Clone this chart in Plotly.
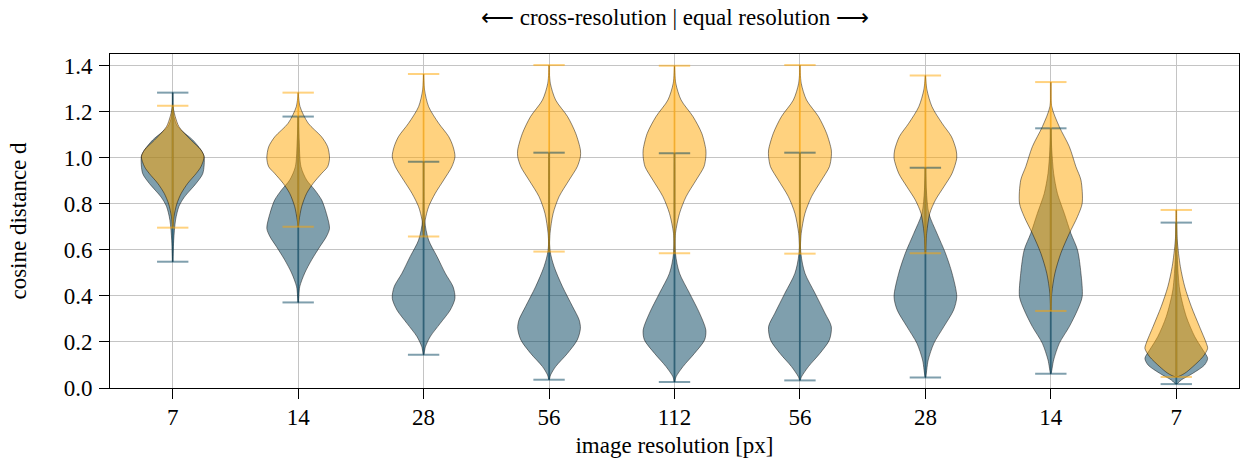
import plotly.graph_objects as go

# ---------------- data ----------------
positions = [1, 2, 3, 4, 5, 6, 7, 8, 9]
tick_labels = ["7", "14", "28", "56", "112", "56", "28", "14", "7"]
y_ticks = [0.0, 0.2, 0.4, 0.6, 0.8, 1.0, 1.2, 1.4]
y_tick_labels = ["0.0", "0.2", "0.4", "0.6", "0.8", "1.0", "1.2", "1.4"]

# blue series (lower distribution)
blue_min = [0.549, 0.372, 0.145, 0.036, 0.026, 0.033, 0.046, 0.062, 0.017]
blue_max = [1.284, 1.180, 0.984, 1.023, 1.020, 1.023, 0.958, 1.129, 0.719]
# density profiles: y values and relative half-width (1 = widest)
blue_prof_y = [
    [0.549, 0.64, 0.73, 0.79, 0.83, 0.89, 0.933, 1.006, 1.035, 1.078, 1.136, 1.18, 1.284],
    [0.372, 0.44, 0.50, 0.557, 0.614, 0.658, 0.694, 0.759, 0.817, 0.861, 0.904, 0.962, 1.078, 1.180],
    [0.145, 0.18, 0.223, 0.281, 0.339, 0.39, 0.44, 0.499, 0.571, 0.643, 0.73, 0.984],
    [0.036, 0.057, 0.093, 0.151, 0.209, 0.259, 0.296, 0.354, 0.44, 0.528, 0.60, 1.023],
    [0.026, 0.049, 0.093, 0.151, 0.209, 0.252, 0.325, 0.412, 0.499, 0.586, 1.020],
    [0.033, 0.049, 0.093, 0.151, 0.209, 0.267, 0.325, 0.412, 0.499, 0.586, 1.023],
    [0.046, 0.122, 0.194, 0.267, 0.339, 0.397, 0.499, 0.586, 0.672, 0.759, 0.861, 0.958],
    [0.062, 0.122, 0.194, 0.267, 0.339, 0.397, 0.499, 0.60, 0.672, 0.759, 0.846, 0.933, 1.035, 1.129],
    [0.017, 0.035, 0.064, 0.10, 0.129, 0.165, 0.223, 0.31, 0.426, 0.571, 0.719],
]
blue_prof_w = [
    [0.0, 0.03, 0.09, 0.20, 0.37, 0.75, 0.96, 1.0, 0.90, 0.64, 0.16, 0.04, 0.0],
    [0.0, 0.05, 0.21, 0.43, 0.69, 0.90, 1.0, 0.90, 0.75, 0.53, 0.27, 0.09, 0.03, 0.0],
    [0.0, 0.06, 0.21, 0.53, 0.85, 1.0, 0.94, 0.69, 0.43, 0.16, 0.03, 0.0],
    [0.0, 0.05, 0.21, 0.59, 0.90, 1.0, 0.96, 0.75, 0.43, 0.16, 0.03, 0.0],
    [0.0, 0.05, 0.27, 0.64, 0.96, 1.0, 0.80, 0.48, 0.16, 0.03, 0.0],
    [0.0, 0.05, 0.27, 0.64, 0.94, 1.0, 0.80, 0.48, 0.16, 0.03, 0.0],
    [0.0, 0.09, 0.27, 0.59, 0.90, 1.0, 0.85, 0.64, 0.37, 0.11, 0.03, 0.0],
    [0.0, 0.09, 0.27, 0.59, 0.85, 1.0, 0.96, 0.85, 0.64, 0.43, 0.21, 0.09, 0.03, 0.0],
    [0.0, 0.16, 0.53, 0.90, 1.0, 0.85, 0.59, 0.32, 0.11, 0.03, 0.0],
]

# orange series (upper distribution)
orange_min = [0.697, 0.701, 0.659, 0.593, 0.586, 0.584, 0.586, 0.335, 0.048]
orange_max = [1.227, 1.284, 1.365, 1.404, 1.401, 1.404, 1.358, 1.330, 0.774]
orange_prof_y = [
    [0.697, 0.745, 0.80, 0.846, 0.89, 0.933, 0.962, 1.006, 1.035, 1.078, 1.136, 1.18, 1.227],
    [0.701, 0.73, 0.788, 0.846, 0.89, 0.933, 0.962, 0.999, 1.049, 1.093, 1.151, 1.223, 1.284],
    [0.659, 0.73, 0.788, 0.846, 0.904, 0.962, 1.006, 1.049, 1.093, 1.151, 1.223, 1.296, 1.365],
    [0.593, 0.672, 0.759, 0.832, 0.904, 0.962, 1.006, 1.035, 1.107, 1.18, 1.252, 1.325, 1.404],
    [0.586, 0.672, 0.759, 0.832, 0.904, 0.962, 1.006, 1.035, 1.107, 1.18, 1.252, 1.325, 1.401],
    [0.584, 0.672, 0.759, 0.832, 0.904, 0.962, 1.006, 1.035, 1.107, 1.18, 1.252, 1.325, 1.404],
    [0.586, 0.672, 0.759, 0.817, 0.875, 0.933, 0.999, 1.035, 1.093, 1.151, 1.223, 1.296, 1.358],
    [0.335, 0.412, 0.499, 0.586, 0.672, 0.745, 0.803, 0.904, 0.962, 1.049, 1.136, 1.223, 1.330],
    [0.048, 0.064, 0.093, 0.136, 0.172, 0.194, 0.267, 0.354, 0.44, 0.528, 0.643, 0.774],
]
orange_prof_w = [
    [0.0, 0.04, 0.13, 0.27, 0.48, 0.75, 0.90, 1.0, 0.90, 0.58, 0.20, 0.08, 0.0],
    [0.0, 0.03, 0.11, 0.27, 0.48, 0.75, 0.94, 1.0, 0.94, 0.74, 0.32, 0.06, 0.0],
    [0.0, 0.05, 0.16, 0.37, 0.64, 0.90, 1.0, 0.94, 0.80, 0.48, 0.16, 0.03, 0.0],
    [0.0, 0.03, 0.13, 0.32, 0.64, 0.90, 1.0, 1.0, 0.85, 0.59, 0.21, 0.04, 0.0],
    [0.0, 0.03, 0.16, 0.37, 0.69, 0.94, 1.0, 1.0, 0.87, 0.59, 0.21, 0.04, 0.0],
    [0.0, 0.04, 0.16, 0.37, 0.69, 0.94, 1.0, 1.0, 0.85, 0.59, 0.21, 0.04, 0.0],
    [0.0, 0.04, 0.14, 0.32, 0.59, 0.85, 1.0, 0.98, 0.83, 0.53, 0.21, 0.05, 0.0],
    [0.0, 0.03, 0.13, 0.32, 0.59, 0.85, 1.0, 0.96, 0.80, 0.59, 0.27, 0.03, 0.0],
    [0.0, 0.27, 0.53, 0.85, 1.0, 0.96, 0.74, 0.48, 0.27, 0.13, 0.03, 0.0],
]

# ---------------- style ----------------
FONT = "Times New Roman, Liberation Serif, Times, serif"
FS = 23
HALF_WIDTH = 0.25   # violin half width in x units
CAP_HALF = 0.125
series = [
    dict(name="blue", rgb=(0, 63, 92), mins=blue_min, maxs=blue_max,
         py=blue_prof_y, pw=blue_prof_w),
    dict(name="orange", rgb=(255, 166, 0), mins=orange_min, maxs=orange_max,
         py=orange_prof_y, pw=orange_prof_w),
]


def rgba(rgb, a):
    return f"rgba({rgb[0]},{rgb[1]},{rgb[2]},{a})"


fig = go.Figure()

# violin bodies
for s in series:
    for pos, ys, ws in zip(positions, s["py"], s["pw"]):
        xr = [pos + HALF_WIDTH * w for w in ws]
        xl = [pos - HALF_WIDTH * w for w in ws]
        x = xr + xl[::-1]
        y = list(ys) + list(ys)[::-1]
        fig.add_trace(go.Scatter(
            x=x, y=y, mode="lines", fill="toself",
            fillcolor=rgba(s["rgb"], 0.5),
            line=dict(color="rgba(0,0,0,0.45)", width=1, shape="spline", smoothing=0.8),
            hoverinfo="skip", showlegend=False))

# vertical bars and caps
for s in series:
    xs, ys = [], []
    for pos, lo, hi in zip(positions, s["mins"], s["maxs"]):
        xs += [pos, pos, None]
        ys += [lo, hi, None]
        xs += [pos - CAP_HALF, pos + CAP_HALF, None]
        ys += [lo, lo, None]
        xs += [pos - CAP_HALF, pos + CAP_HALF, None]
        ys += [hi, hi, None]
    fig.add_trace(go.Scatter(
        x=xs, y=ys, mode="lines",
        line=dict(color=rgba(s["rgb"], 0.5), width=2),
        hoverinfo="skip", showlegend=False))

fig.update_layout(
    width=1241, height=460,
    margin=dict(l=110, r=2, t=54, b=72),
    paper_bgcolor="white", plot_bgcolor="white",
    font=dict(family=FONT, size=FS, color="black"),
    showlegend=False,
    xaxis=dict(
        range=[0.5, 9.5], tickmode="array", tickvals=positions, ticktext=tick_labels,
        showgrid=True, gridcolor="#c4c4c4", gridwidth=1,
        ticks="outside", ticklen=10, tickcolor="black", tickwidth=1,
        ticklabelstandoff=-2,
        showline=True, linecolor="black", linewidth=1, mirror=True,
        zeroline=False, tickfont=dict(family=FONT, size=FS),
        title=dict(text="image resolution [px]", font=dict(family=FONT, size=FS), standoff=8),
    ),
    yaxis=dict(
        range=[0, 1.452], tickmode="array",
        tickvals=y_ticks, ticktext=y_tick_labels,
        showgrid=True, gridcolor="#c4c4c4", gridwidth=1,
        ticks="outside", ticklen=10, tickcolor="black", tickwidth=1,
        ticklabelstandoff=2,
        showline=True, linecolor="black", linewidth=1, mirror=True,
        zeroline=False, tickfont=dict(family=FONT, size=FS),
        title=dict(text="cosine distance d", font=dict(family=FONT, size=FS), standoff=30),
    ),
    annotations=[dict(
        text="⟵ cross-resolution | equal resolution ⟶",
        xref="paper", yref="paper", x=0.5, y=1.0, yshift=37,
        xanchor="center", yanchor="middle", showarrow=False,
        font=dict(size=FS, family=FONT),
    )],
)

fig.write_html("out.html")
